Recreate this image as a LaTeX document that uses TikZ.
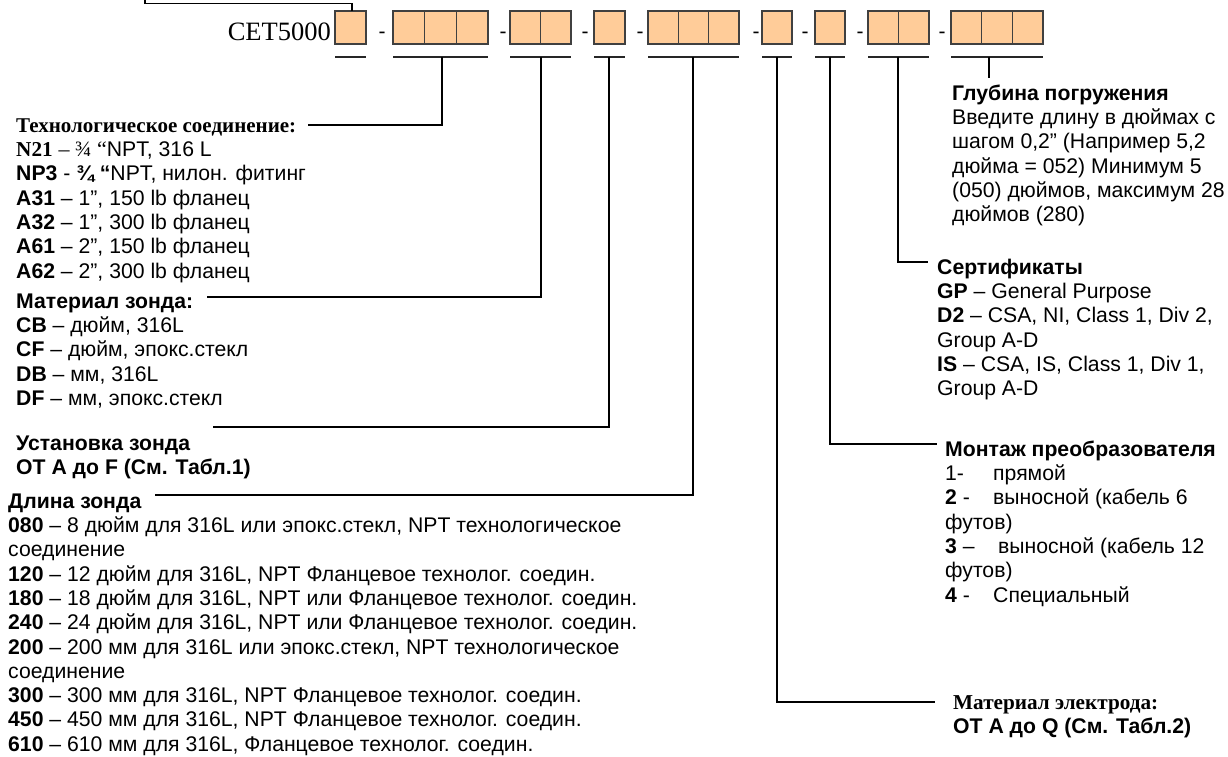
\documentclass[tikz,border=0pt]{standalone}
\usepackage{fontspec}
\setmainfont{Liberation Sans}
\newfontfamily\tnr{Liberation Serif}
\definecolor{peach}{HTML}{FFCC99}
\definecolor{boxgray}{HTML}{404040}
\begin{document}
\begin{tikzpicture}[x=1bp,y=-1bp,
  cell/.style={draw=boxgray, fill=peach, line width=1.4bp, minimum height=33bp, inner sep=0, outer sep=0, anchor=north west},
  ln/.style={line width=1.5bp, black},
  ul/.style={line width=1.5bp, black!85},
  txt/.style={inner sep=0, anchor=north west, align=left, font=\fontsize{21.2bp}{24.3bp}\selectfont},
  dsh/.style={inner sep=0, anchor=base, font=\fontsize{21bp}{24bp}\selectfont},
  code/.style={inner sep=0, anchor=base east, font=\tnr\fontsize{26.5bp}{30bp}\selectfont}]
\useasboundingbox (0,0) rectangle (1228,757);
\fill[white] (0,0) rectangle (1228,757);

% code string
\node[code] (cet) at (331,41) {CET5000};
\foreach \nm/\xa/\xb/\n in {g1/335/366/1, g2/393/488/3, g3/510/571/2, g4/594/625/1, g5/648/739/3, g6/762/792/1, g7/815/845/1, g8/868/929/2, g9/951/1043/3}{
  \pgfmathsetmacro\cw{(\xb-\xa)/\n}
  \foreach \k in {1,...,\n}{
    \node[cell, minimum width=\cw bp] (\nm-\k) at ({\xa+(\k-1)*\cw},11) {};
  }
  \draw[ul] (\xa,57) -- (\xb,57);
}
\foreach \i/\xd in {1/382, 2/503, 3/585, 4/640, 5/756, 6/805, 7/860, 8/942}{
  \node[dsh] (d\i) at (\xd,39) {-};
}

% under-line tap points
\coordinate (u1) at (352,11);
\coordinate (u2) at (442,57);
\coordinate (u3) at (541,57);
\coordinate (u4) at (609,57);
\coordinate (u5) at (693,57);
\coordinate (u6) at (777,57);
\coordinate (u7) at (830,57);
\coordinate (u8) at (898,57);
\coordinate (u9) at (989,57);

% left text blocks
\node[txt] (tech) at (16,115) {%
  \strut{\tnr\bfseries\fontsize{21bp}{24.3bp}\selectfont Технологическое соединение:}\\
  {\tnr\bfseries N21} {\tnr\fontsize{22bp}{24.3bp}\selectfont – ¾ “}NPT, 316 L\\
  \textbf{NP3} - \textbf{¾ “}NPT, нилон. фитинг\\
  \textbf{A31} – 1”, 150 lb фланец\\
  \textbf{A32} – 1”, 300 lb фланец\\
  \textbf{A61} – 2”, 150 lb фланец\\
  \textbf{A62} – 2”, 300 lb фланец};
\node[txt] (mat) at (16,291) {%
  \strut\textbf{Материал зонда:}\\
  \textbf{CB} – дюйм, 316L\\
  \textbf{CF} – дюйм, эпокс.стекл\\
  \textbf{DB} – мм, 316L\\
  \textbf{DF} – мм, эпокс.стекл};
\node[txt] (ust) at (16,433) {%
  \strut\textbf{Установка зонда}\\
  \textbf{ОТ A до F (См. Табл.1)}};
\node[txt] (dl) at (8,491) {%
  \strut\textbf{Длина зонда}\\
  \textbf{080} – 8 дюйм для 316L или эпокс.стекл, NPT технологическое\\
  соединение\\
  \textbf{120} – 12 дюйм для 316L, NPT Фланцевое технолог. соедин.\\
  \textbf{180} – 18 дюйм для 316L, NPT или Фланцевое технолог. соедин.\\
  \textbf{240} – 24 дюйм для 316L, NPT или Фланцевое технолог. соедин.\\
  \textbf{200} – 200 мм для 316L или эпокс.стекл, NPT технологическое\\
  соединение\\
  \textbf{300} – 300 мм для 316L, NPT Фланцевое технолог. соедин.\\
  \textbf{450} – 450 мм для 316L, NPT Фланцевое технолог. соедин.\\
  \textbf{610} – 610 мм для 316L, Фланцевое технолог. соедин.};

% right text blocks
\node[txt] (glub) at (952,83) {%
  \strut\textbf{Глубина погружения}\\
  Введите длину в дюймах с\\
  шагом 0,2” (Например 5,2\\
  дюйма = 052) Минимум 5\\
  (050) дюймов, максимум 28\\
  дюймов (280)};
\node[txt] (sert) at (937,257) {%
  \strut\textbf{Сертификаты}\\
  \textbf{GP} – General Purpose\\
  \textbf{D2} – CSA, NI, Class 1, Div 2,\\
  Group A-D\\
  \textbf{IS} – CSA, IS, Class 1, Div 1,\\
  Group A-D};
\node[txt] (mont) at (945,439) {%
  \strut\textbf{Монтаж преобразователя}\\
  \makebox[48bp][l]{1-}прямой\\
  \makebox[48bp][l]{\textbf{2} -}выносной (кабель 6\\
  футов)\\
  \makebox[53bp][l]{\textbf{3} –}выносной (кабель 12\\
  футов)\\
  \makebox[48bp][l]{\textbf{4} -}Специальный};
\node[txt] (el) at (953,692) {%
  \strut{\tnr\bfseries Материал электрода:}\\
  \textbf{ОТ A до Q (См. Табл.2)}};

% connectors
\draw[ln] (u1) -- (352,3.3) -- (145,3.3) -- (145,-5);
\draw[ln] (u2) -- (442,125) -- (308,125);
\draw[ln] (u3) -- (541,297) -- (207,297);
\draw[ln] (u4) -- (609,427) -- (213,427);
\draw[ln] (u5) -- (693,495) -- (155,495);
\draw[ln] (u6) -- (777,702) -- (935,702);
\draw[ln] (u7) -- (830,444) -- (937,444);
\draw[ln] (u8) -- (898,262) -- (928,262);
\draw[ln] (u9) -- (989,78);
\end{tikzpicture}
\end{document}
